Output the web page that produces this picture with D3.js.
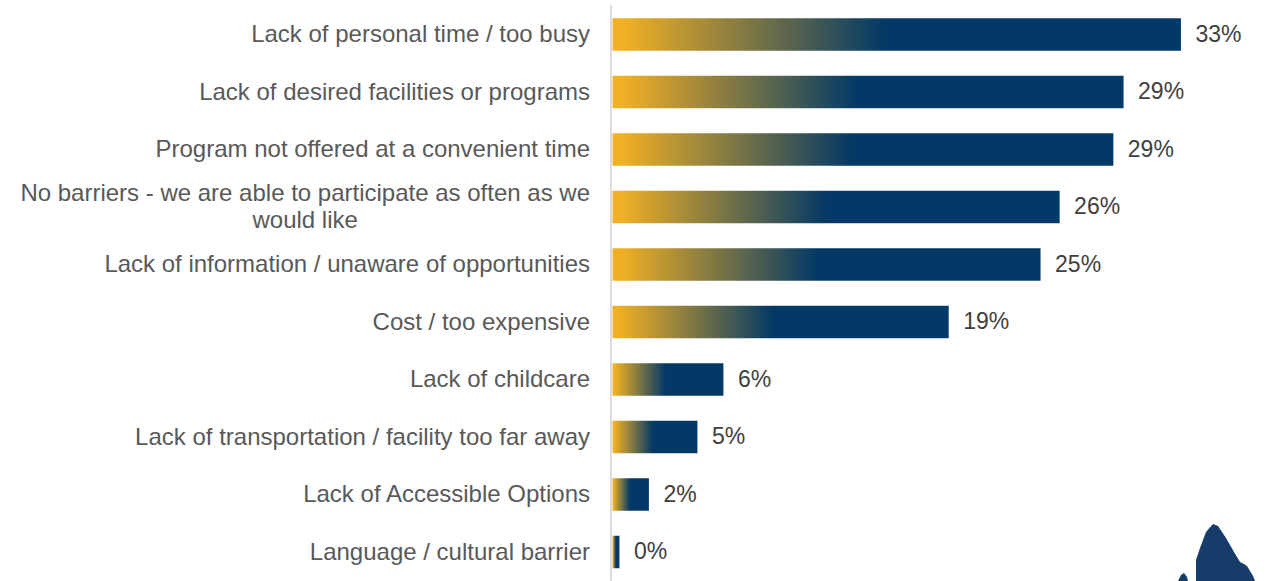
<!DOCTYPE html>
<html>
<head>
<meta charset="utf-8">
<script src="https://cdn.jsdelivr.net/npm/d3@7"></script>
<style>
  html, body { margin: 0; padding: 0; background: #ffffff; }
  svg { display: block; }
</style>
</head>
<body>
<div id="chart"></div>
<script>
// Barriers to participation — share of respondents
const categories = [
  "Lack of personal time / too busy",
  "Lack of desired facilities or programs",
  "Program not offered at a convenient time",
  "No barriers - we are able to participate as often as we would like",
  "Lack of information / unaware of opportunities",
  "Cost / too expensive",
  "Lack of childcare",
  "Lack of transportation / facility too far away",
  "Lack of Accessible Options",
  "Language / cultural barrier"
];
const shares = [32.8, 29.49, 28.9, 25.8, 24.7, 19.4, 6.4, 4.9, 2.1, 0.4];

const W = 1268, H = 581;
const axisX = 612;
const labelRight = 590;
const labelMaxWidth = 580;

const svg = d3.select("#chart").append("svg")
  .attr("width", W).attr("height", H);

// gradient: gold on the left blending into navy by the middle of each bar
const defs = svg.append("defs");
const grad = defs.append("linearGradient")
  .attr("id", "barFill")
  .attr("x1", "0%").attr("x2", "100%").attr("y1", "0%").attr("y2", "0%");
grad.append("stop").attr("offset", "0%").attr("stop-color", "#F2B124");
grad.append("stop").attr("offset", "2%").attr("stop-color", "#F0B024");
grad.append("stop").attr("offset", "48%").attr("stop-color", "#023966");
grad.append("stop").attr("offset", "100%").attr("stop-color", "#023966");

const x = d3.scaleLinear().domain([0, 35]).range([axisX, axisX + 35 * 17.33]);
const y = d3.scaleBand()
  .domain(categories)
  .range([5.75, 580.75])
  .paddingInner(0.435)
  .paddingOuter(0.2175);

// category axis line
svg.append("line")
  .attr("x1", axisX - 1).attr("x2", axisX - 1)
  .attr("y1", 5).attr("y2", H)
  .attr("stroke", "#dcdcdc").attr("stroke-width", 2);

// bars
svg.append("g").selectAll("rect")
  .data(categories)
  .join("rect")
  .attr("x", x(0) + 0.5)
  .attr("y", d => y(d))
  .attr("height", y.bandwidth())
  .attr("width", (d, i) => x(shares[i]) - x(0))
  .attr("fill", "url(#barFill)");

// value labels
const fmt = d3.format(".0f");
svg.append("g").selectAll("text")
  .data(categories)
  .join("text")
  .attr("x", (d, i) => x(shares[i]) + 15)
  .attr("y", d => y(d) + y.bandwidth() / 2)
  .attr("dy", "0.32em")
  .attr("font-family", "'Liberation Sans', Arial, sans-serif")
  .attr("font-size", 23)
  .attr("fill", "#404040")
  .text((d, i) => fmt(shares[i]) + "%");

// category labels, wrapped when wider than the label column
const labels = svg.append("g")
  .attr("font-family", "'Liberation Sans', Arial, sans-serif")
  .attr("font-size", 24)
  .attr("fill", "#595959");

categories.forEach(cat => {
  const cy = y(cat) + y.bandwidth() / 2;
  const t = labels.append("text");
  // greedy word wrap
  const words = cat.split(" ");
  const lines = [];
  let cur = [];
  const probe = t.append("tspan");
  words.forEach(w => {
    const trial = cur.concat([w]).join(" ");
    probe.text(trial);
    if (probe.node().getComputedTextLength() > labelMaxWidth && cur.length) {
      lines.push(cur.join(" "));
      cur = [w];
    } else {
      cur.push(w);
    }
  });
  lines.push(cur.join(" "));
  probe.remove();

  if (lines.length === 1) {
    t.attr("x", labelRight).attr("y", cy).attr("dy", "0.32em")
      .attr("text-anchor", "end").text(lines[0]);
  } else {
    // multi-line labels are centred on the longest line, right-aligned as a block
    let maxW = 0;
    lines.forEach(l => {
      const s = t.append("tspan").text(l);
      maxW = Math.max(maxW, s.node().getComputedTextLength());
      s.remove();
    });
    const lh = 27;
    const cx = labelRight - maxW / 2;
    t.attr("text-anchor", "middle");
    lines.forEach((l, k) => {
      t.append("tspan")
        .attr("x", cx)
        .attr("y", cy + (k - (lines.length - 1) / 2) * lh)
        .attr("dy", "0.32em")
        .text(l);
    });
  }
});

// mountain emblem peeking in at the lower right corner
svg.append("path")
  .attr("d", "M1196,581 L1196,560 L1200,548 L1206,532 L1213,524 L1218,526 L1226,538 L1234,552 L1240,562 L1244,564 L1247,566 L1253,576 L1255,581 Z " +
             "M1178,581 L1181,575 L1184,573 L1187,577 L1188,581 Z")
  .attr("fill", "#163d6a");
</script>
</body>
</html>
